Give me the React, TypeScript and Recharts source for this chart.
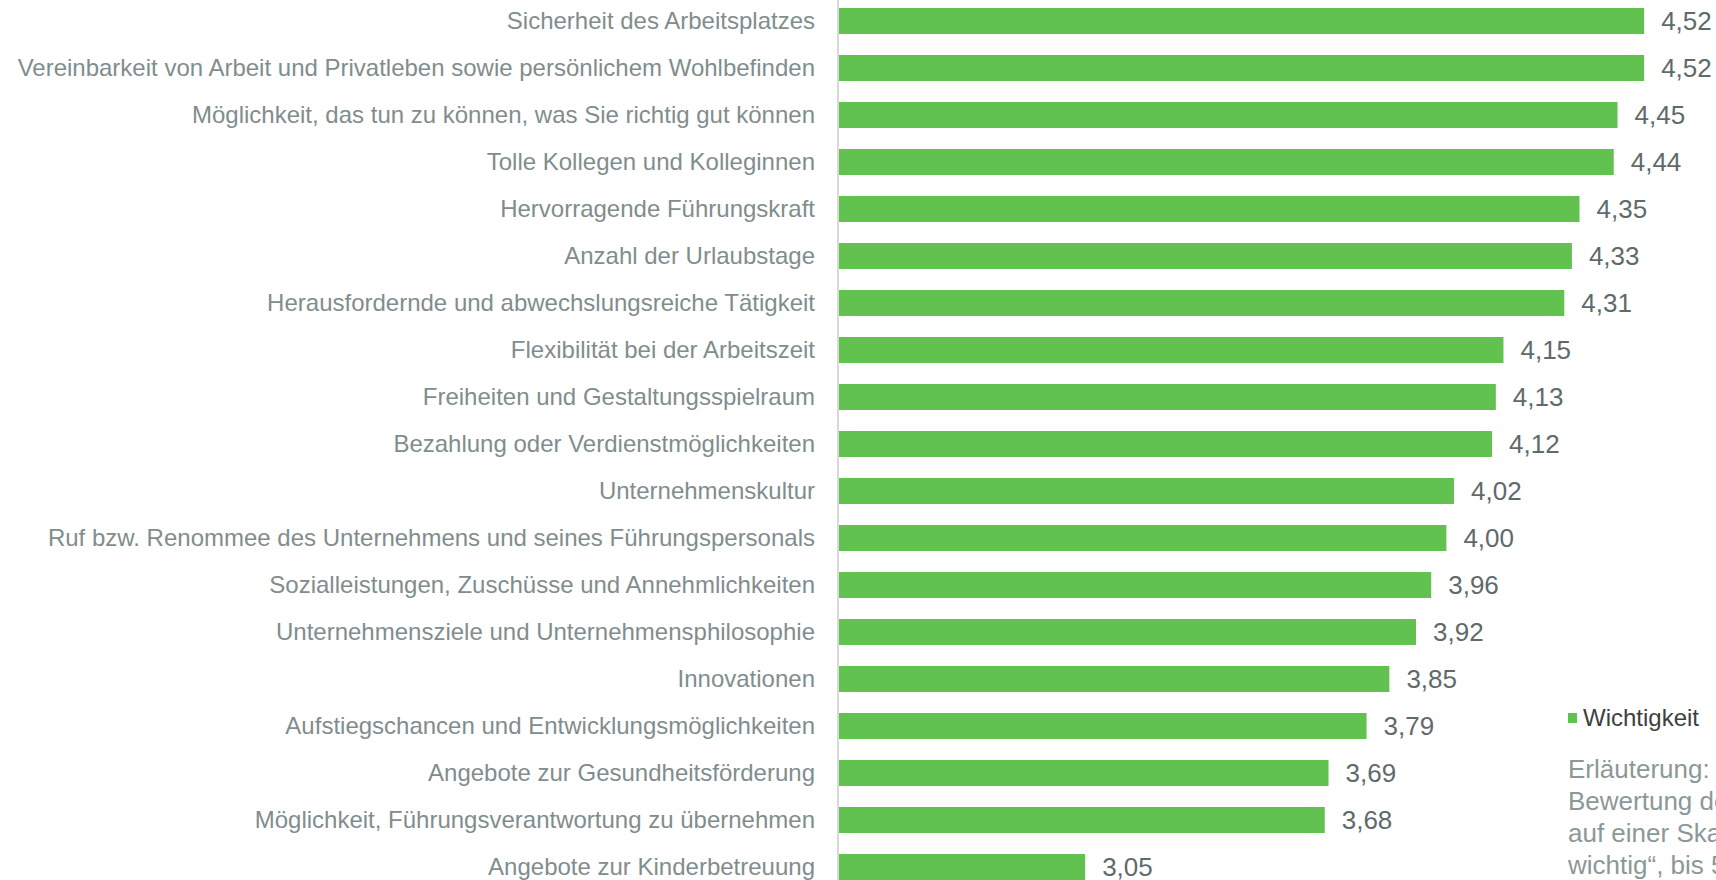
import { Bar, BarChart, LabelList, XAxis, YAxis } from "recharts";

const categories = [
  "Sicherheit des Arbeitsplatzes",
  "Vereinbarkeit von Arbeit und Privatleben sowie persönlichem Wohlbefinden",
  "Möglichkeit, das tun zu können, was Sie richtig gut können",
  "Tolle Kollegen und Kolleginnen",
  "Hervorragende Führungskraft",
  "Anzahl der Urlaubstage",
  "Herausfordernde und abwechslungsreiche Tätigkeit",
  "Flexibilität bei der Arbeitszeit",
  "Freiheiten und Gestaltungsspielraum",
  "Bezahlung oder Verdienstmöglichkeiten",
  "Unternehmenskultur",
  "Ruf bzw. Renommee des Unternehmens und seines Führungspersonals",
  "Sozialleistungen, Zuschüsse und Annehmlichkeiten",
  "Unternehmensziele und Unternehmensphilosophie ",
  "Innovationen",
  "Aufstiegschancen und Entwicklungsmöglichkeiten",
  "Angebote zur Gesundheitsförderung",
  "Möglichkeit, Führungsverantwortung zu übernehmen",
  "Angebote zur Kinderbetreuung",
];

const wichtigkeit = [
  4.52, 4.52, 4.45, 4.44, 4.35, 4.33, 4.31, 4.15, 4.13, 4.12, 4.02, 4.0, 3.96,
  3.92, 3.85, 3.79, 3.69, 3.68, 3.05,
];

const noteLines = [
  "Erläuterung:",
  "Bewertung der Wichtigkeit",
  "auf einer Skala von 1 „gar nicht",
  "wichtig“, bis 5 „sehr wichtig“",
];

const data = categories.map((name, i) => ({ name, value: wichtigkeit[i] }));

const FONT = '"Liberation Sans", Arial, sans-serif';
const GREEN = "#61C250";

const fmt = (v: any) => Number(v).toFixed(2).replace(".", ",");

export default function App() {
  return (
    <div
      style={{
        position: "fixed",
        left: 0,
        top: 0,
        width: 1716,
        height: 880,
        overflow: "hidden",
        background: "#fff",
      }}
    >
      <div style={{ position: "absolute", left: 0, top: -3 }}>
        <BarChart
          data={data}
          height={893}
          layout="vertical"
          margin={{ top: 0, right: 3.4, left: 0, bottom: 0 }}
          width={1716}
        >
          <XAxis domain={[2.4, 4.7]} hide type="number" />
          <YAxis
            axisLine={{ stroke: "#d9d9d9", strokeWidth: 2 }}
            dataKey="name"
            interval={0}
            tick={{ fill: "#818D8D", fontSize: 24, fontFamily: FONT }}
            tickLine={false}
            tickMargin={17}
            type="category"
            width={838}
          />
          <Bar
            barSize={26}
            dataKey="value"
            fill={GREEN}
            isAnimationActive={false}
            name="Wichtigkeit"
          >
            <LabelList
              dataKey="value"
              fill="#5F6A6A"
              fontFamily={FONT}
              fontSize={26}
              formatter={fmt}
              offset={17}
              position="right"
            />
          </Bar>
        </BarChart>
      </div>
      {/* legend, kept outside the chart so it doesn't shrink the plot */}
      <div
        style={{
          position: "absolute",
          left: 1568,
          top: 704,
          display: "flex",
          alignItems: "center",
          fontFamily: FONT,
          fontSize: 24,
          color: "#404040",
          whiteSpace: "nowrap",
        }}
      >
        <span
          style={{
            width: 9,
            height: 10,
            background: GREEN,
            marginRight: 6,
            display: "inline-block",
          }}
        />
        Wichtigkeit
      </div>
      <div
        style={{
          position: "absolute",
          left: 1568,
          top: 753,
          fontFamily: FONT,
          fontSize: 26,
          lineHeight: "32px",
          color: "#8C9898",
          whiteSpace: "nowrap",
        }}
      >
        {noteLines.map((l) => (
          <div key={l}>{l}</div>
        ))}
      </div>
    </div>
  );
}
